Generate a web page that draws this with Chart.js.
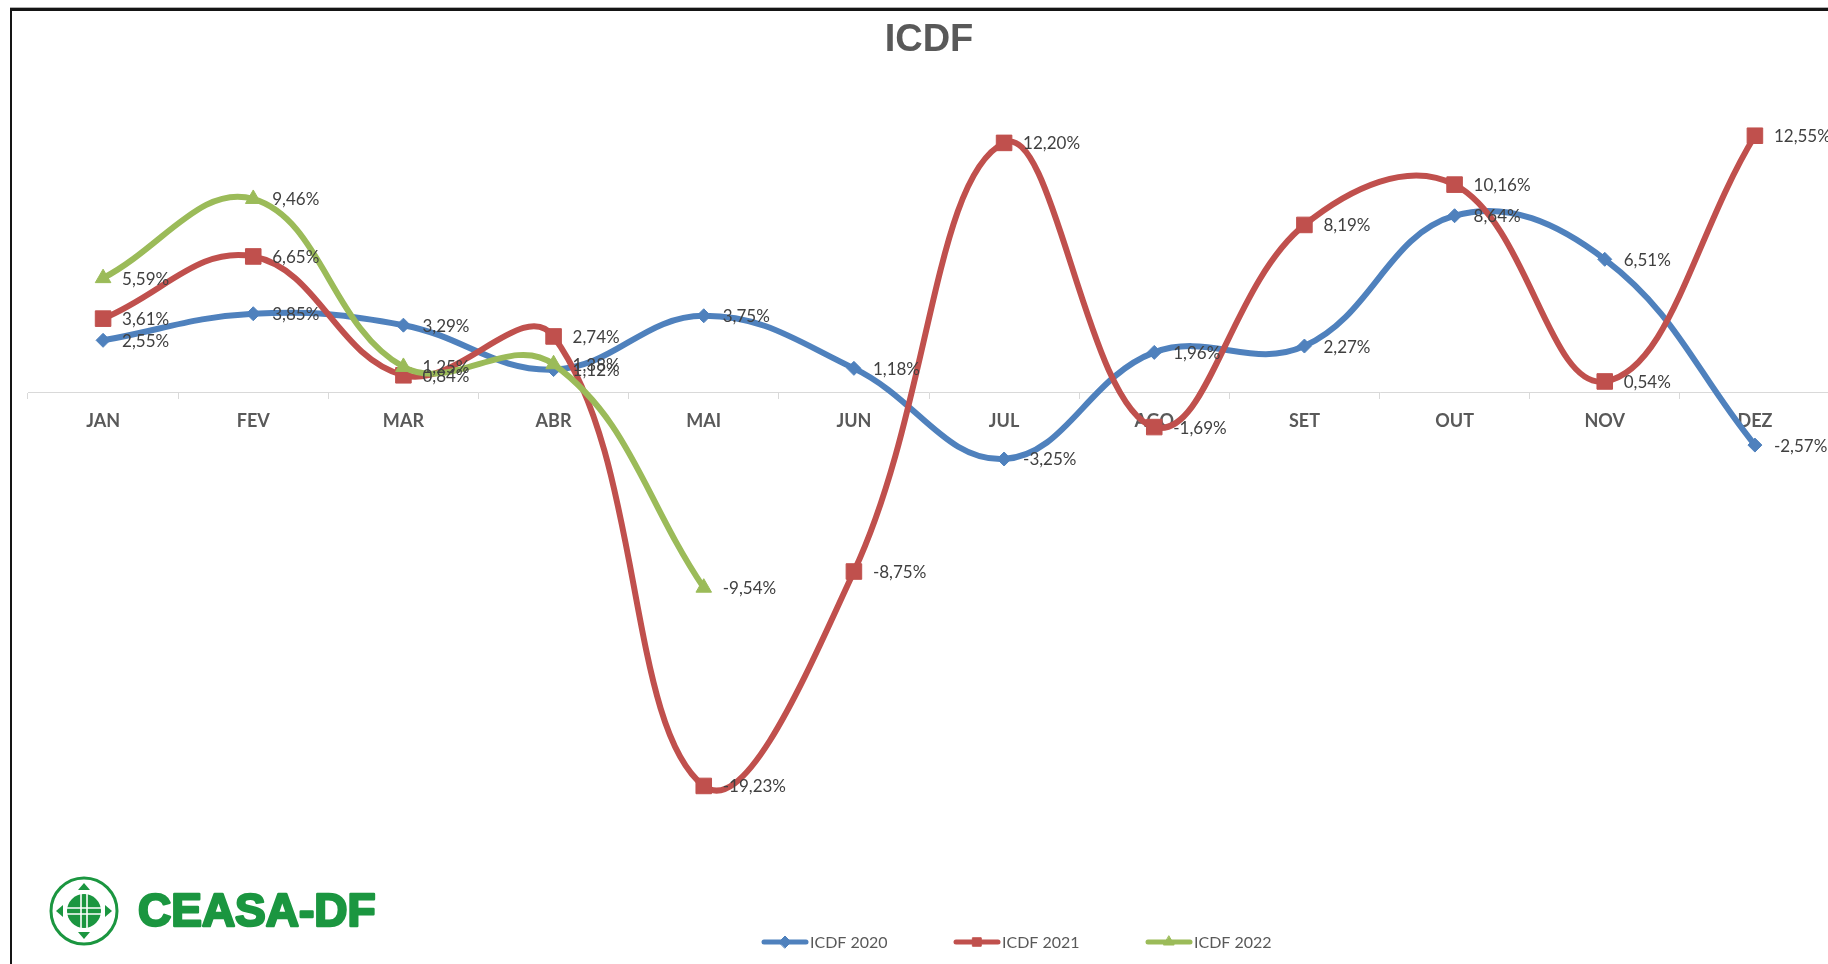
<!DOCTYPE html>
<html lang="pt-BR">
<head>
<meta charset="utf-8">
<title>ICDF</title>
<script src="https://cdn.jsdelivr.net/npm/chart.js@4.4.1/dist/chart.umd.min.js"></script>
<style>
  html, body { margin: 0; padding: 0; background: #ffffff; overflow: hidden; }
  #icdfChart { display: block; }
</style>
</head>
<body>
<canvas id="icdfChart" width="1850" height="964"></canvas>
<script>
// ====================================
// ICDF - variação mensal
// ====================================

const months = ['JAN', 'FEV', 'MAR', 'ABR', 'MAI', 'JUN', 'JUL', 'AGO', 'SET', 'OUT', 'NOV', 'DEZ'];
const icdf2020 = [2.55, 3.85, 3.29, 1.12, 3.75, 1.18, -3.25, 1.96, 2.27, 8.64, 6.51, -2.57];
const icdf2021 = [3.61, 6.65, 0.84, 2.74, -19.23, -8.75, 12.20, -1.69, 8.19, 10.16, 0.54, 12.55];
const icdf2022 = [5.59, 9.46, 1.25, 1.38, -9.54];
const seriesLabels = ['ICDF 2020', 'ICDF 2021', 'ICDF 2022'];
const yRange = [-25, 15];

const BLUE = '#4F81BD';
const RED = '#C0504D';
const GREEN = '#9BBB59';
const LOGO_GREEN = '#1b9640';

// pt-BR number format: 2,55%
function fmtPct(v) {
  return v.toFixed(2).replace('.', ',') + '%';
}

// Data labels to the right of each point
const dataLabelsPlugin = {
  id: 'dataLabels',
  afterDatasetsDraw(chart) {
    const ctx = chart.ctx;
    ctx.save();
    ctx.font = '17px Lato';
    ctx.fillStyle = '#404040';
    ctx.textAlign = 'left';
    ctx.textBaseline = 'middle';
    chart.data.datasets.forEach((ds, i) => {
      const meta = chart.getDatasetMeta(i);
      meta.data.forEach((pt, j) => {
        ctx.fillText(fmtPct(ds.data[j]), pt.x + 19, pt.y + 1);
      });
    });
    ctx.restore();
  }
};

// Legend at the bottom: line + marker, like the spreadsheet one
const lineLegendPlugin = {
  id: 'lineLegend',
  afterDraw(chart) {
    const ctx = chart.ctx;
    const y = 942;
    ctx.save();
    chart.data.datasets.forEach((ds, i) => {
      const x0 = 762 + i * 192;
      ctx.strokeStyle = ds.borderColor;
      ctx.lineWidth = 5;
      ctx.lineCap = 'round';
      ctx.beginPath();
      ctx.moveTo(x0 + 2, y);
      ctx.lineTo(x0 + 44, y);
      ctx.stroke();
      ctx.fillStyle = ds.borderColor;
      ctx.lineWidth = 1;
      Chart.helpers.drawPoint(ctx, { pointStyle: ds.pointStyle, rotation: 0, radius: 6, borderWidth: 1 }, x0 + 23, y);
      ctx.fillStyle = '#595959';
      ctx.font = '16px Lato';
      ctx.textAlign = 'left';
      ctx.textBaseline = 'middle';
      ctx.fillText(ds.label, x0 + 48, y + 1);
    });
    ctx.restore();
  }
};

// Frame lines and CEASA-DF logo
const decorPlugin = {
  id: 'decor',
  afterDraw(chart) {
    const ctx = chart.ctx;
    ctx.save();
    // frame
    ctx.fillStyle = '#b0b0b0';
    ctx.fillRect(10, 7, chart.width, 1);
    ctx.fillStyle = '#151515';
    ctx.fillRect(10, 8, chart.width, 3);
    ctx.fillRect(10, 8, 2, chart.height);

    // logo icon
    const cx = 84, cy = 911;
    ctx.strokeStyle = LOGO_GREEN;
    ctx.lineWidth = 3;
    ctx.beginPath();
    ctx.ellipse(cx, cy, 33, 33, 0, 0, Math.PI * 2);
    ctx.stroke();
    ctx.fillStyle = LOGO_GREEN;
    ctx.beginPath();
    ctx.arc(cx, cy, 17, 0, Math.PI * 2);
    ctx.fill();
    // arrows
    const tri = (ang) => {
      ctx.save();
      ctx.translate(cx, cy);
      ctx.rotate(ang);
      ctx.beginPath();
      ctx.moveTo(0, -28);
      ctx.lineTo(-6, -21);
      ctx.lineTo(6, -21);
      ctx.closePath();
      ctx.fill();
      ctx.restore();
    };
    [0, Math.PI / 2, Math.PI, Math.PI * 1.5].forEach(tri);
    // white cross
    ctx.strokeStyle = '#ffffff';
    ctx.lineWidth = 1.6;
    ctx.beginPath();
    ctx.moveTo(cx - 3, cy - 17); ctx.lineTo(cx - 3, cy + 17);
    ctx.moveTo(cx + 3, cy - 17); ctx.lineTo(cx + 3, cy + 17);
    ctx.moveTo(cx - 17, cy - 3); ctx.lineTo(cx + 17, cy - 3);
    ctx.moveTo(cx - 17, cy + 3); ctx.lineTo(cx + 17, cy + 3);
    ctx.stroke();

    // logo text (heavy)
    ctx.fillStyle = LOGO_GREEN;
    ctx.strokeStyle = LOGO_GREEN;
    ctx.lineWidth = 2.5;
    ctx.lineJoin = 'round';
    ctx.font = 'bold 46px "Liberation Sans"';
    ctx.textAlign = 'left';
    ctx.textBaseline = 'alphabetic';
    ctx.fillText('CEASA-DF', 138, 926);
    ctx.strokeText('CEASA-DF', 138, 926);
    ctx.restore();
  }
};

const lineDataset = (label, data, color, style, radius, order) => ({
  label: label,
  data: data,
  borderColor: color,
  backgroundColor: color,
  borderWidth: 6,
  tension: 0.4,
  pointStyle: style,
  pointRadius: radius,
  pointHoverRadius: radius,
  pointBorderWidth: 1,
  pointBorderColor: color,
  pointBackgroundColor: color,
  order: order
});

const ctx = document.getElementById('icdfChart').getContext('2d');
const chart = new Chart(ctx, {
  type: 'line',
  data: {
    labels: months,
    datasets: [
      lineDataset(seriesLabels[0], icdf2020, BLUE, 'rectRot', 7, 3),
      lineDataset(seriesLabels[1], icdf2021, RED, 'rect', 11, 2),
      lineDataset(seriesLabels[2], icdf2022, GREEN, 'triangle', 9, 1)
    ]
  },
  options: {
    responsive: false,
    animation: false,
    devicePixelRatio: 1,
    layout: {
      padding: { left: 28, right: 20, top: 0, bottom: 60 }
    },
    plugins: {
      legend: { display: false },
      tooltip: { enabled: false },
      title: {
        display: true,
        text: 'ICDF',
        color: '#595959',
        font: { family: '"Liberation Sans"', size: 38, weight: 'bold', lineHeight: 1.2 },
        padding: { top: 18, bottom: 22 }
      }
    },
    scales: {
      x: {
        type: 'category',
        offset: true,
        position: { y: 0 },
        grid: {
          display: true,
          offset: true,
          drawOnChartArea: false,
          drawTicks: true,
          tickLength: 6,
          color: '#d9d9d9'
        },
        border: { display: true, color: '#d9d9d9', width: 1 },
        ticks: {
          color: '#595959',
          padding: 12,
          maxRotation: 0,
          font: { family: 'Lato', size: 18, weight: 'bold' }
        }
      },
      y: {
        display: false,
        min: yRange[0],
        max: yRange[1]
      }
    }
  },
  plugins: [dataLabelsPlugin, lineLegendPlugin, decorPlugin]
});
</script>
</body>
</html>
